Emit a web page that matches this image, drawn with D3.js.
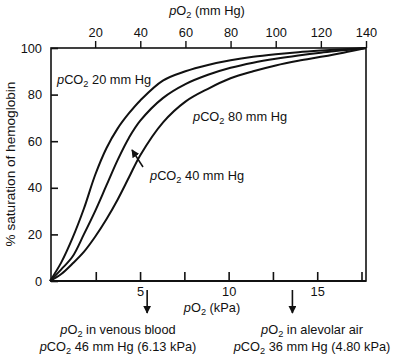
<!DOCTYPE html>
<html>
<head>
<meta charset="utf-8">
<script src="https://cdn.jsdelivr.net/npm/d3@7"></script>
<style>
  html, body { margin: 0; padding: 0; background: #fff; }
  svg { display: block; }
  text { font-family: "Liberation Sans", Arial, Helvetica, sans-serif; fill: #111; }
</style>
</head>
<body>
<svg id="chart" width="400" height="361"></svg>
<script>
// ---- data ----
const pO2mmHg = [0, 5, 10, 15, 20, 25, 30, 35, 40, 50, 60, 70, 80, 90, 100, 110, 120, 130, 140];
const satCO2_20 = [0, 8, 18.5, 31, 45.5, 57, 65.5, 72, 77.5, 86, 90, 92.7, 94.7, 96.2, 97.3, 98.2, 98.9, 99.5, 100];
const satCO2_40 = [0, 5, 10.5, 20, 30, 41, 52, 61.5, 68.8, 78.5, 84.5, 88.5, 91.5, 93.7, 95.4, 96.8, 98, 99, 100];
const satCO2_80 = [0, 3, 7.5, 12.5, 19, 26.5, 35, 44.5, 54, 68, 77, 82.5, 87, 90, 92.5, 94.5, 96.2, 98, 100];
const topTicks = [20, 40, 60, 80, 100, 120, 140];          // mm Hg
const bottomTicks = [2.5, 5, 7.5, 10, 12.5, 15, 17.5];      // kPa
const bottomLabels = [5, 10, 15];
const leftTicks = [0, 20, 40, 60, 80, 100];
const seriesNames = ["20", "40", "80"];
const markerKPa = [5.4, 13.6]; // arrow positions on kPa axis

const svg = d3.select("#chart");
const L = 51, R = 366, T = 48, B = 281;
const x = d3.scaleLinear().domain([0, 140]).range([50, R]);
const xk = d3.scaleLinear().domain([0, 17.5]).range([51.5, 361.5]);
const y = d3.scaleLinear().domain([0, 100]).range([B, T]);

// rich label helper: parts = [[text, style]], style: 'i' italic, 's' subscript
function rich(sel, parts, size) {
  let sub = false;
  parts.forEach(([t, st]) => {
    const ts = sel.append("tspan").text(t);
    if (st === 'i') ts.attr("font-style", "italic");
    if (st === 's') { ts.attr("font-size", size * 0.72).attr("dy", 3); sub = true; }
    else if (sub) { ts.attr("dy", -3); sub = false; }
  });
  return sel;
}
const FS = 12.8;

// frame
svg.append("rect").attr("x", L).attr("y", T).attr("width", R - L).attr("height", B - T)
  .attr("fill", "none").attr("stroke", "#111").attr("stroke-width", 1.6);
svg.append("line").attr("x1", L).attr("x2", R).attr("y1", B).attr("y2", B)
  .attr("stroke", "#111").attr("stroke-width", 2.2);

// top axis (mm Hg)
const gTop = svg.append("g").attr("transform", `translate(0,${T})`)
  .call(d3.axisTop(x).tickValues(topTicks).tickSize(7).tickPadding(4));
gTop.select(".domain").remove();
gTop.selectAll("line").attr("stroke", "#111").attr("stroke-width", 1.4);
gTop.selectAll("text").attr("font-size", FS).attr("font-family", null).attr("fill", "#111");

// bottom axis (kPa) - inward ticks
const gBot = svg.append("g").attr("transform", `translate(0,${B})`)
  .call(d3.axisBottom(xk).tickValues(bottomTicks).tickSize(-9)
    .tickFormat(d => bottomLabels.includes(d) ? d : ""));
gBot.select(".domain").remove();
gBot.selectAll("line").attr("stroke", "#111").attr("stroke-width", 1.6);
gBot.selectAll("text").attr("font-size", FS).attr("font-family", null).attr("fill", "#111")
  .attr("y", 6);

// left axis - inward ticks
const gLeft = svg.append("g").attr("transform", `translate(${L},0)`)
  .call(d3.axisLeft(y).tickValues(leftTicks).tickSize(-7).tickPadding(9));
gLeft.select(".domain").remove();
gLeft.selectAll("line").attr("stroke", "#111").attr("stroke-width", 1.6);
gLeft.selectAll("text").attr("font-size", FS).attr("font-family", null).attr("fill", "#111");

// curves
const line = d3.line().x(d => x(d[0])).y(d => y(d[1])).curve(d3.curveCatmullRom.alpha(0.5));
[satCO2_20, satCO2_40, satCO2_80].forEach((s, i) => {
  svg.append("path").datum(pO2mmHg.map((p, j) => [p, s[j]]))
    .attr("d", line).attr("fill", "none").attr("stroke", "#111")
    .attr("stroke-width", 2).attr("class", "curve-" + seriesNames[i]);
});

// titles
rich(svg.append("text").attr("x", 207).attr("y", 15).attr("text-anchor", "middle").attr("font-size", FS),
  [["p", 'i'], ["O"], ["2", 's'], [" (mm Hg)"]], FS);
rich(svg.append("text").attr("x", 212).attr("y", 312).attr("text-anchor", "middle").attr("font-size", FS),
  [["p", 'i'], ["O"], ["2", 's'], [" (kPa)"]], FS);
svg.append("text").attr("transform", "translate(15,164) rotate(-90)")
  .attr("text-anchor", "middle").attr("font-size", 13.6).text("% saturation of hemoglobin");

// curve labels
rich(svg.append("text").attr("x", 57).attr("y", 84).attr("font-size", FS),
  [["p", 'i'], ["CO"], ["2", 's'], [" " + seriesNames[0] + " mm Hg"]], FS);
rich(svg.append("text").attr("x", 193).attr("y", 121).attr("font-size", FS),
  [["p", 'i'], ["CO"], ["2", 's'], [" " + seriesNames[2] + " mm Hg"]], FS);
rich(svg.append("text").attr("x", 150).attr("y", 180).attr("font-size", FS),
  [["p", 'i'], ["CO"], ["2", 's'], [" " + seriesNames[1] + " mm Hg"]], FS);

// arrows
const defs = svg.append("defs");
defs.append("marker").attr("id", "ah").attr("viewBox", "0 0 10 10").attr("refX", 9).attr("refY", 5)
  .attr("markerWidth", 8).attr("markerHeight", 8).attr("markerUnits", "userSpaceOnUse")
  .attr("orient", "auto").append("path").attr("d", "M0,0 L10,5 L0,10 Z").attr("fill", "#111");
// arrow to pCO2 40 curve
svg.append("line").attr("x1", 143).attr("y1", 167).attr("x2", 132).attr("y2", 150)
  .attr("stroke", "#111").attr("stroke-width", 1.5).attr("marker-end", "url(#ah)");
// markers below axis
markerKPa.forEach(k => {
  svg.append("line").attr("x1", xk(k)).attr("x2", xk(k)).attr("y1", 290).attr("y2", 313)
    .attr("stroke", "#111").attr("stroke-width", 1.6).attr("marker-end", "url(#ah)");
});

// notes
rich(svg.append("text").attr("x", 118).attr("y", 334).attr("text-anchor", "middle").attr("font-size", FS),
  [["p", 'i'], ["O"], ["2", 's'], [" in venous blood"]], FS);
rich(svg.append("text").attr("x", 118).attr("y", 351).attr("text-anchor", "middle").attr("font-size", FS),
  [["p", 'i'], ["CO"], ["2", 's'], [" 46 mm Hg (6.13 kPa)"]], FS);
rich(svg.append("text").attr("x", 312).attr("y", 334).attr("text-anchor", "middle").attr("font-size", FS),
  [["p", 'i'], ["O"], ["2", 's'], [" in alevolar air"]], FS);
rich(svg.append("text").attr("x", 312).attr("y", 351).attr("text-anchor", "middle").attr("font-size", FS),
  [["p", 'i'], ["CO"], ["2", 's'], [" 36 mm Hg (4.80 kPa)"]], FS);
</script>
</body>
</html>
